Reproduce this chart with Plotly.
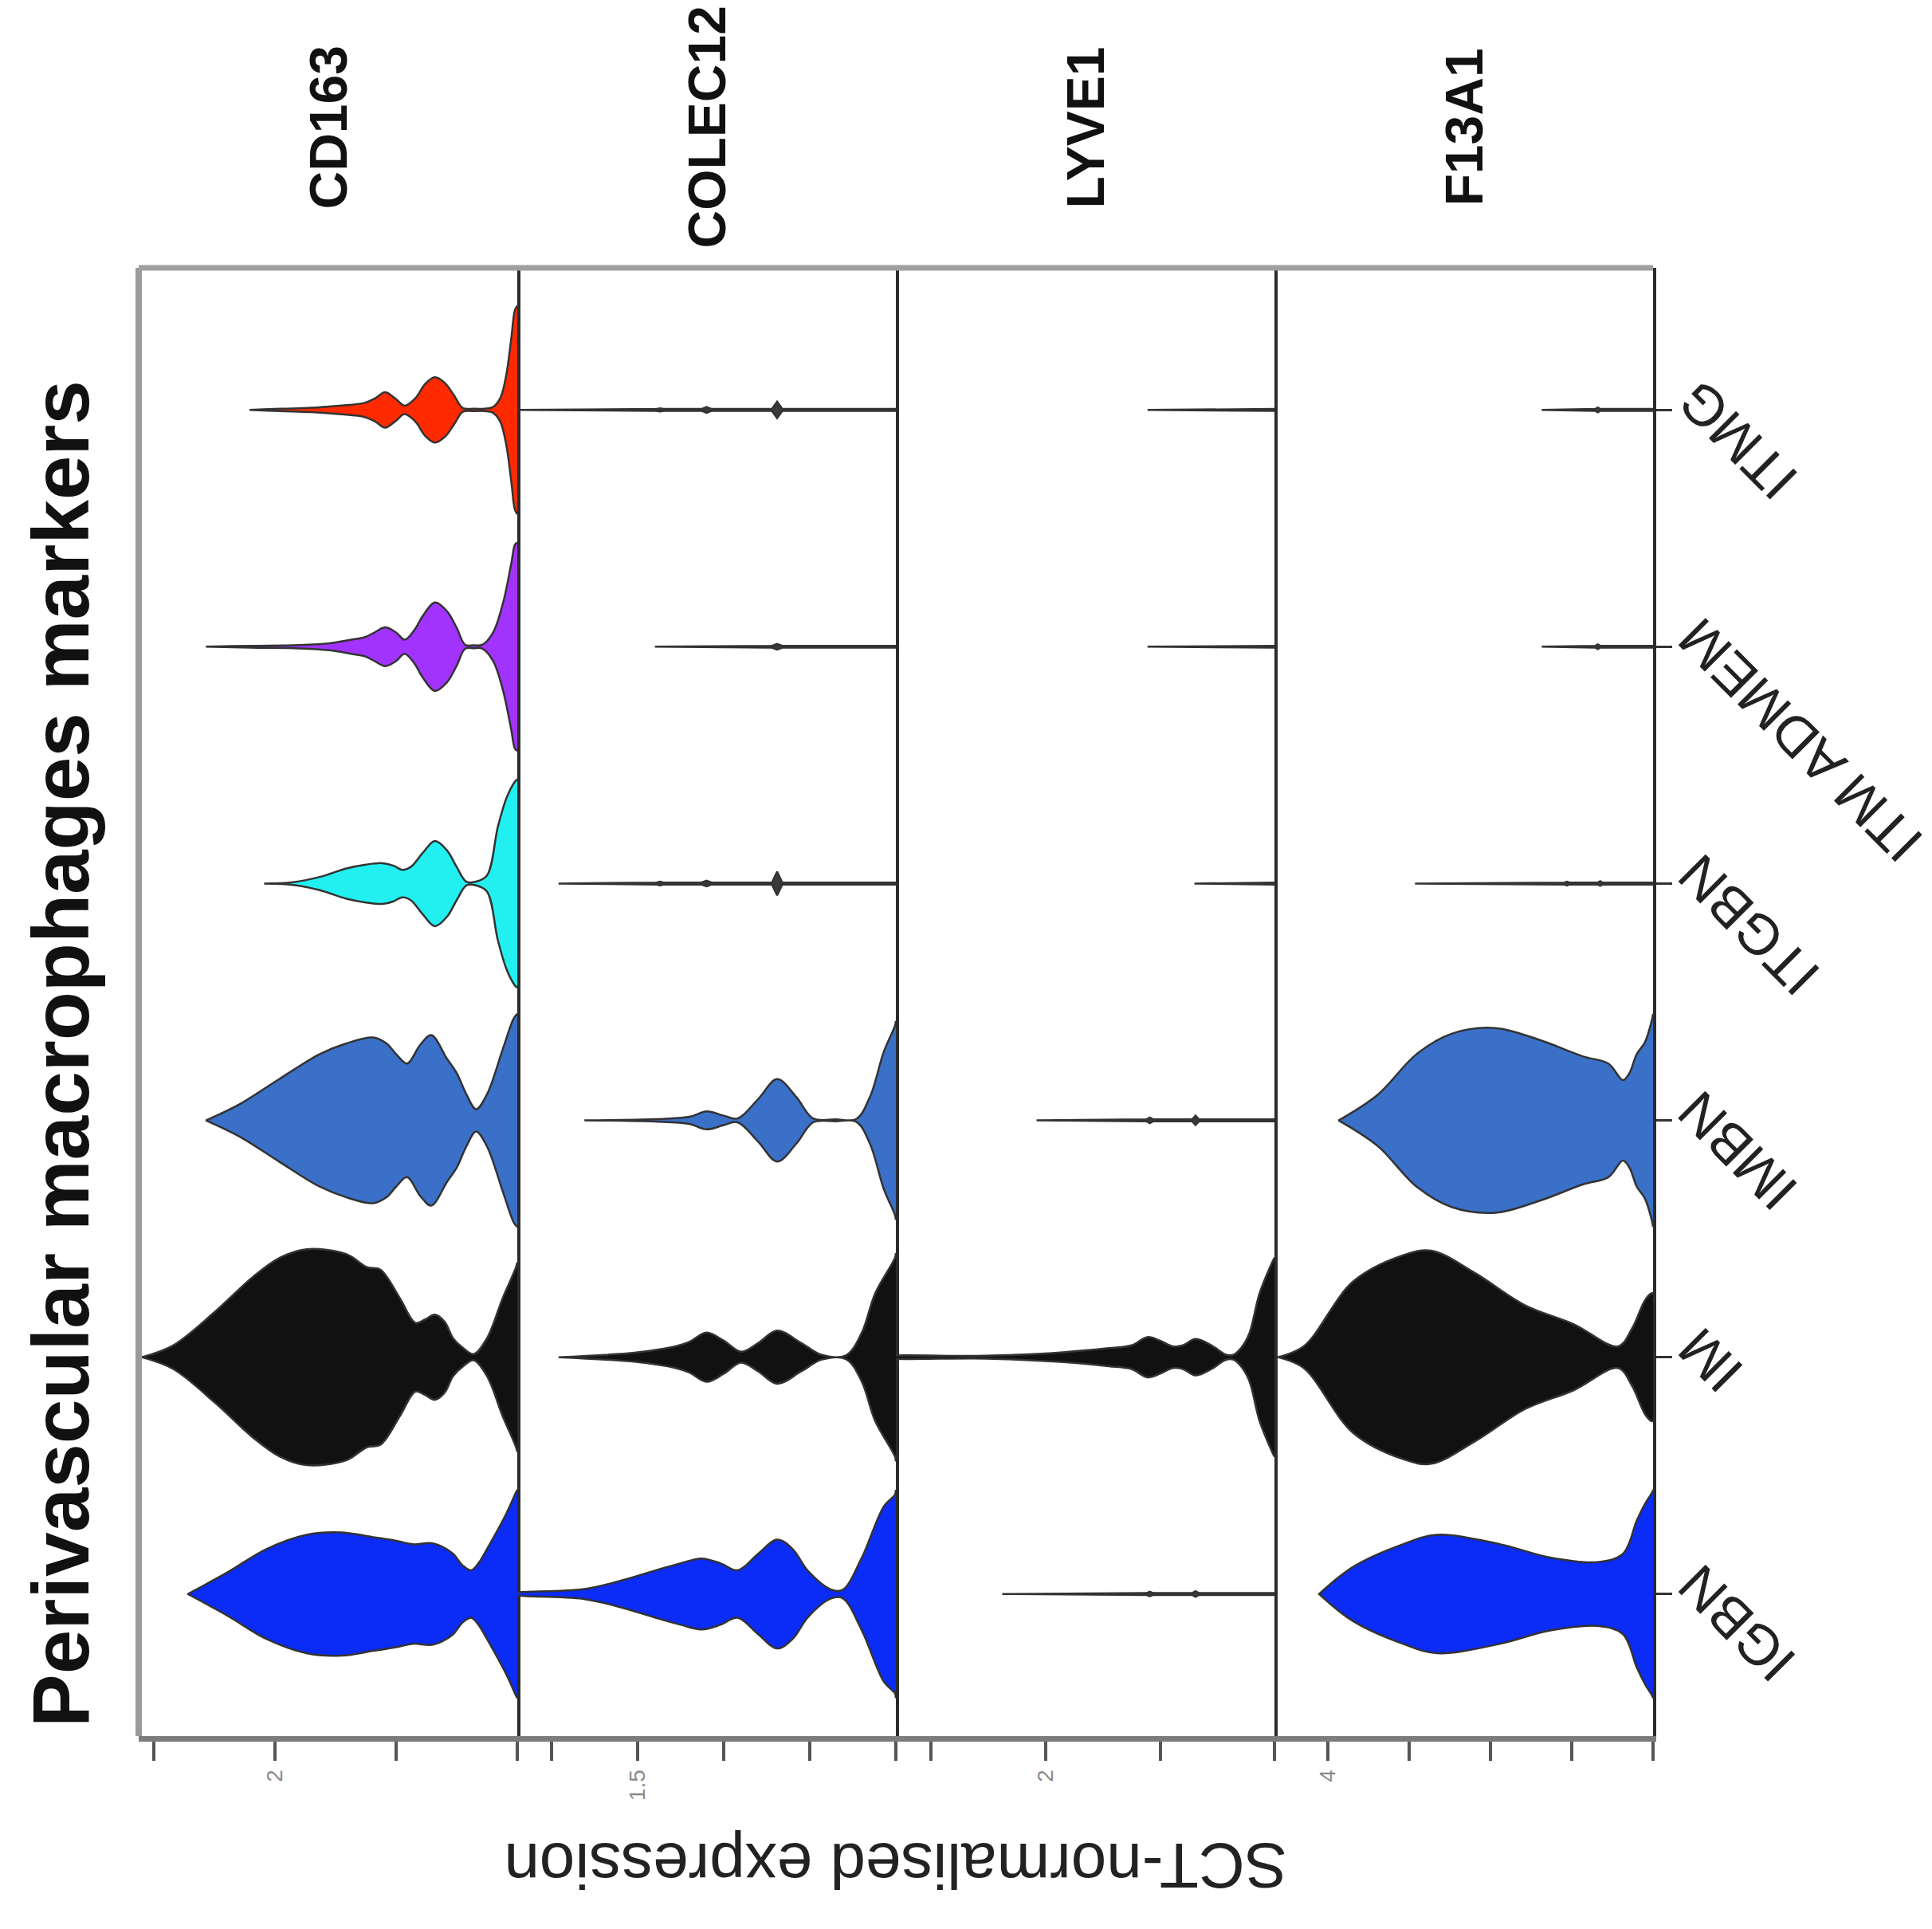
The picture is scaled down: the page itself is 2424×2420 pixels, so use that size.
import plotly.graph_objects as go

# ---------------- data ----------------
categories = ["IGBN", "IM", "IMBN", "ITGBN", "ITM ADMEM", "ITMG"]   # bottom -> top
genes = ["CD163", "COLEC12", "LYVE1", "F13A1"]
cat_colors = ["#0B2BF7", "#111111", "#3A70C7", "#22F0F0", "#A233FF", "#FF2A00"]

axis_max = [3.125, 2.2, 3.31, 4.66]
tick_vals_cd163 = [0, 1, 2, 3]
tick_text_cd163 = ["", "", "2", ""]
tick_vals_colec12 = [0, 0.5, 1.0, 1.5, 2.0]
tick_text_colec12 = ["", "", "", "1.5", ""]
tick_vals_lyve1 = [0, 1, 2, 3]
tick_text_lyve1 = ["", "", "2", ""]
tick_vals_f13a1 = [0, 1, 2, 3, 4]
tick_text_f13a1 = ["", "", "", "", "4"]

# violin profiles: expression value (v) and half-width in category units (w)
# CD163
cd163_itmg_v = [0, 0.02, 0.05, 0.09, 0.14, 0.2, 0.27, 0.36, 0.45, 0.52, 0.6, 0.68, 0.76, 0.84, 0.93, 1.0, 1.09, 1.17, 1.26, 1.47, 1.7, 1.95, 2.21]
cd163_itmg_w = [0.44, 0.42, 0.3, 0.15, 0.05, 0.012, 0.005, 0.005, 0.008, 0.06, 0.115, 0.138, 0.11, 0.05, 0.018, 0.045, 0.075, 0.05, 0.03, 0.018, 0.009, 0.005, 0]
cd163_itmadmem_v = [0, 0.02, 0.05, 0.12, 0.2, 0.29, 0.36, 0.43, 0.5, 0.58, 0.68, 0.78, 0.85, 0.93, 1.0, 1.09, 1.18, 1.26, 1.37, 1.55, 1.8, 2.2, 2.57]
cd163_itmadmem_w = [0.44, 0.43, 0.35, 0.18, 0.06, 0.008, 0.006, 0.008, 0.08, 0.15, 0.187, 0.13, 0.07, 0.03, 0.06, 0.082, 0.06, 0.04, 0.03, 0.015, 0.007, 0.004, 0]
cd163_itgbn_v = [0, 0.02, 0.09, 0.16, 0.25, 0.34, 0.42, 0.5, 0.58, 0.68, 0.78, 0.88, 0.95, 1.02, 1.11, 1.25, 1.41, 1.63, 1.85, 2.09]
cd163_itgbn_w = [0.44, 0.43, 0.36, 0.24, 0.034, 0.008, 0.008, 0.07, 0.14, 0.18, 0.13, 0.07, 0.058, 0.075, 0.086, 0.08, 0.064, 0.028, 0.006, 0]
cd163_imbn_v = [0, 0.03, 0.12, 0.25, 0.34, 0.42, 0.5, 0.58, 0.71, 0.8, 0.91, 1.0, 1.08, 1.19, 1.41, 1.63, 1.96, 2.29, 2.57]
cd163_imbn_w = [0.45, 0.43, 0.3, 0.11, 0.047, 0.11, 0.2, 0.26, 0.36, 0.32, 0.24, 0.28, 0.325, 0.35, 0.325, 0.28, 0.176, 0.069, 0]
cd163_im_v = [0, 0.01, 0.12, 0.25, 0.36, 0.45, 0.53, 0.6, 0.68, 0.76, 0.84, 0.97, 1.13, 1.24, 1.41, 1.74, 1.96, 2.18, 2.5, 2.84, 3.1]
cd163_im_w = [0.4, 0.38, 0.25, 0.08, 0.013, 0.04, 0.08, 0.15, 0.18, 0.16, 0.145, 0.25, 0.37, 0.38, 0.435, 0.456, 0.42, 0.34, 0.19, 0.05, 0]
cd163_igbn_v = [0, 0.01, 0.09, 0.25, 0.32, 0.38, 0.45, 0.53, 0.62, 0.71, 0.86, 1.0, 1.19, 1.45, 1.74, 2.07, 2.39, 2.72]
cd163_igbn_w = [0.44, 0.43, 0.34, 0.19, 0.13, 0.10, 0.12, 0.17, 0.2, 0.215, 0.21, 0.225, 0.24, 0.26, 0.25, 0.19, 0.092, 0]
# COLEC12
colec12_itmg_v = [0, 0.66, 0.69, 0.72, 1.07, 1.10, 1.13, 1.35, 1.37, 1.39, 2.25]
colec12_itmg_w = [0.004, 0.004, 0.035, 0.004, 0.004, 0.012, 0.004, 0.004, 0.007, 0.004, 0]
colec12_itmadmem_v = [0, 0.66, 0.69, 0.72, 1.40]
colec12_itmadmem_w = [0.004, 0.004, 0.012, 0.004, 0]
colec12_itgbn_v = [0, 0.66, 0.69, 0.72, 1.07, 1.10, 1.13, 1.35, 1.37, 1.39, 1.96]
colec12_itgbn_w = [0.004, 0.004, 0.05, 0.004, 0.004, 0.012, 0.004, 0.004, 0.008, 0.004, 0]
colec12_imbn_v = [0, 0.005, 0.07, 0.15, 0.23, 0.35, 0.48, 0.58, 0.69, 0.8, 0.92, 1.0, 1.10, 1.2, 1.4, 1.81]
colec12_imbn_w = [0.42, 0.4, 0.29, 0.1, 0.006, 0.004, 0.008, 0.1, 0.174, 0.09, 0.008, 0.02, 0.038, 0.015, 0.005, 0]
colec12_im_v = [0, 0.005, 0.12, 0.2, 0.29, 0.43, 0.55, 0.69, 0.8, 0.9, 1.0, 1.10, 1.2, 1.28, 1.51, 1.96]
colec12_im_w = [0.44, 0.42, 0.27, 0.1, 0.008, 0.01, 0.06, 0.112, 0.06, 0.023, 0.07, 0.104, 0.065, 0.046, 0.02, 0]
colec12_igbn_v = [0, 0.005, 0.07, 0.2, 0.31, 0.38, 0.51, 0.6, 0.69, 0.8, 0.92, 1.02, 1.13, 1.25, 1.36, 1.59, 1.82, 2.25]
colec12_igbn_w = [0.44, 0.42, 0.37, 0.15, 0.017, 0.02, 0.097, 0.19, 0.23, 0.17, 0.1, 0.13, 0.15, 0.13, 0.108, 0.058, 0.02, 0.002]
# LYVE1
lyve1_itmg_v = [0, 1.11]
lyve1_itmg_w = [0.004, 0]
lyve1_itmadmem_v = [0, 1.11]
lyve1_itmadmem_w = [0.004, 0]
lyve1_itgbn_v = [0, 0.70]
lyve1_itgbn_w = [0.004, 0]
lyve1_imbn_v = [0, 0.66, 0.69, 0.72, 1.06, 1.09, 1.12, 2.08]
lyve1_imbn_w = [0.004, 0.004, 0.02, 0.004, 0.004, 0.012, 0.004, 0]
lyve1_im_v = [0, 0.02, 0.13, 0.22, 0.29, 0.36, 0.43, 0.55, 0.69, 0.8, 0.89, 1.0, 1.11, 1.25, 1.45, 1.87, 2.52, 3.4]
lyve1_im_w = [0.42, 0.4, 0.27, 0.1, 0.04, 0.01, 0.012, 0.05, 0.077, 0.05, 0.046, 0.07, 0.085, 0.05, 0.038, 0.02, 0.006, 0.002]
lyve1_igbn_v = [0, 0.66, 0.69, 0.72, 1.06, 1.09, 1.12, 2.38]
lyve1_igbn_w = [0.004, 0.004, 0.012, 0.004, 0.004, 0.01, 0.004, 0]
# F13A1
f13a1_itmg_v = [0, 0.65, 0.68, 0.71, 1.37]
f13a1_itmg_w = [0.004, 0.004, 0.01, 0.004, 0]
f13a1_itmadmem_v = [0, 0.65, 0.68, 0.71, 1.37]
f13a1_itmadmem_w = [0.004, 0.004, 0.01, 0.004, 0]
f13a1_itgbn_v = [0, 0.62, 0.65, 0.68, 1.03, 1.06, 1.09, 2.93]
f13a1_itgbn_w = [0.004, 0.004, 0.01, 0.004, 0.004, 0.008, 0.004, 0]
f13a1_imbn_v = [0, 0.01, 0.1, 0.2, 0.29, 0.37, 0.55, 0.86, 1.4, 1.94, 2.48, 2.91, 3.39, 3.87]
f13a1_imbn_w = [0.45, 0.43, 0.33, 0.28, 0.2, 0.17, 0.24, 0.27, 0.34, 0.39, 0.366, 0.28, 0.108, 0]
f13a1_im_v = [0, 0.02, 0.1, 0.26, 0.43, 0.98, 1.58, 2.19, 2.73, 3.08, 3.69, 4.3, 4.62]
f13a1_im_w = [0.27, 0.27, 0.24, 0.12, 0.046, 0.14, 0.22, 0.355, 0.45, 0.43, 0.32, 0.046, 0]
f13a1_igbn_v = [0, 0.01, 0.1, 0.2, 0.37, 0.68, 1.28, 1.88, 2.66, 3.08, 3.69, 4.11]
f13a1_igbn_w = [0.44, 0.43, 0.38, 0.31, 0.17, 0.135, 0.155, 0.21, 0.25, 0.21, 0.115, 0]

profiles = {
    "CD163": [(cd163_igbn_v, cd163_igbn_w), (cd163_im_v, cd163_im_w), (cd163_imbn_v, cd163_imbn_w),
              (cd163_itgbn_v, cd163_itgbn_w), (cd163_itmadmem_v, cd163_itmadmem_w), (cd163_itmg_v, cd163_itmg_w)],
    "COLEC12": [(colec12_igbn_v, colec12_igbn_w), (colec12_im_v, colec12_im_w), (colec12_imbn_v, colec12_imbn_w),
                (colec12_itgbn_v, colec12_itgbn_w), (colec12_itmadmem_v, colec12_itmadmem_w), (colec12_itmg_v, colec12_itmg_w)],
    "LYVE1": [(lyve1_igbn_v, lyve1_igbn_w), (lyve1_im_v, lyve1_im_w), (lyve1_imbn_v, lyve1_imbn_w),
              (lyve1_itgbn_v, lyve1_itgbn_w), (lyve1_itmadmem_v, lyve1_itmadmem_w), (lyve1_itmg_v, lyve1_itmg_w)],
    "F13A1": [(f13a1_igbn_v, f13a1_igbn_w), (f13a1_im_v, f13a1_im_w), (f13a1_imbn_v, f13a1_imbn_w),
              (f13a1_itgbn_v, f13a1_itgbn_w), (f13a1_itmadmem_v, f13a1_itmadmem_w), (f13a1_itmg_v, f13a1_itmg_w)],
}
tick_vals = [tick_vals_cd163, tick_vals_colec12, tick_vals_lyve1, tick_vals_f13a1]
tick_text = [tick_text_cd163, tick_text_colec12, tick_text_lyve1, tick_text_f13a1]

# ---------------- figure ----------------
FONT = "Liberation Sans, Arial, Helvetica, sans-serif"
fig = go.Figure()

for gi, gene in enumerate(genes):
    xa = "x" if gi == 0 else f"x{gi+1}"
    ya = "y" if gi == 0 else f"y{gi+1}"
    for ci, (v, w) in enumerate(profiles[gene]):
        xs = list(v) + list(v[::-1])
        ys = [ci + wi for wi in w] + [ci - wi for wi in w[::-1]]
        thin = max(w) < 0.1
        line = (dict(color="#333333", width=2.5, shape="linear") if thin
                else dict(color="#333333", width=2.5, shape="spline", smoothing=1.0))
        fig.add_trace(go.Scatter(
            x=xs, y=ys, xaxis=xa, yaxis=ya, mode="lines", fill="toself",
            fillcolor="#3a3a3a" if thin else cat_colors[ci], line=line,
            hoverinfo="skip", showlegend=False,
        ))

PLOT_TOP, PLOT_BOTTOM = 328, 2170
layout = dict(
    width=2424, height=2420,
    margin=dict(l=166, r=358, t=PLOT_TOP, b=2420 - PLOT_BOTTOM),
    paper_bgcolor="white", plot_bgcolor="white",
    showlegend=False,
    font=dict(family=FONT, color="black"),
)
for gi in range(4):
    xk = "xaxis" if gi == 0 else f"xaxis{gi+1}"
    yk = "yaxis" if gi == 0 else f"yaxis{gi+1}"
    ya = "y" if gi == 0 else f"y{gi+1}"
    xa = "x" if gi == 0 else f"x{gi+1}"
    layout[xk] = dict(
        domain=[gi * 0.25, (gi + 1) * 0.25], range=[axis_max[gi], 0], anchor=ya,
        showgrid=False, zeroline=False, showline=True, linecolor="#7c7c7c", linewidth=7,
        ticks="outside", ticklen=24, tickwidth=4, tickcolor="#555555",
        tickvals=tick_vals[gi], ticktext=tick_text[gi], tickangle=-90,
        tickfont=dict(size=28, color="#8a8a8a", family=FONT),
    )
    ydict = dict(
        domain=[0, 1], range=[-0.6, 5.6], anchor=xa, side="right",
        showgrid=False, zeroline=False, showline=True, linecolor="#2b2b2b", linewidth=4,
        showticklabels=False, tickvals=list(range(len(categories))),
    )
    if gi == 3:
        ydict.update(ticks="outside", ticklen=20, tickwidth=3, tickcolor="#333333")
    else:
        ydict.update(ticks="")
    layout[yk] = ydict
fig.update_layout(**layout)

H = PLOT_BOTTOM - PLOT_TOP

# frame: left and top borders
fig.add_shape(type="line", xref="paper", yref="paper", x0=0, x1=0, y0=0, y1=1,
              line=dict(color="#9a9a9a", width=8))
fig.add_shape(type="line", xref="paper", yref="paper", x0=0, x1=1, y0=1, y1=1,
              line=dict(color="#a0a0a0", width=7))

# gene labels
for gi, gene in enumerate(genes):
    xr = "x domain" if gi == 0 else f"x{gi+1} domain"
    fig.add_annotation(text=f"<b>{gene}</b>", xref=xr, x=0.5, yref="paper", y=1 + (PLOT_TOP - 152) / H,
                       xanchor="center", yanchor="middle", textangle=-90, showarrow=False,
                       font=dict(size=66, color="#111111", family=FONT))

# category labels
for ci, cat in enumerate(categories):
    fig.add_annotation(text=cat, xref="paper", x=(2080 - 166) / 1900, yref="y4", y=ci,
                       xanchor="left", yanchor="top", yshift=54, textangle=-135, showarrow=False,
                       font=dict(size=70, color="#222222", family=FONT))

# title
fig.add_annotation(text="<b>Perivascular macrophages markers</b>", xref="paper", x=(68 - 166) / 1900,
                   yref="paper", y=(PLOT_BOTTOM - 1314) / H, xanchor="center", yanchor="middle",
                   textangle=-90, showarrow=False, font=dict(size=100, color="#111111", family=FONT))
# x axis title (upside down)
fig.add_annotation(text="SCT-normalised expression", xref="paper", x=0.5,
                   yref="paper", y=(PLOT_BOTTOM - 2333) / H, xanchor="center", yanchor="middle",
                   textangle=180, showarrow=False, font=dict(size=80, color="#222222", family=FONT))

fig.write_html("out.html")
